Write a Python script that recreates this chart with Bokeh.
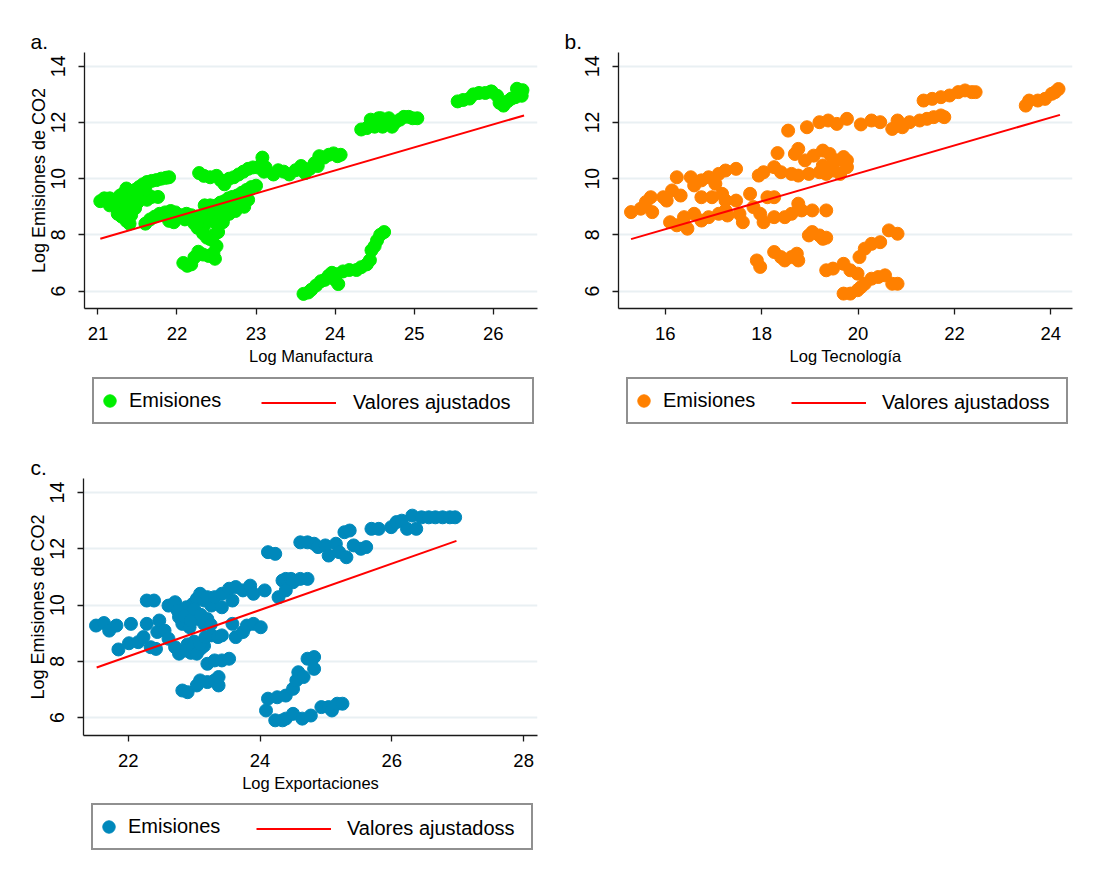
from bokeh.plotting import figure
from bokeh.models import Legend, LegendItem, FixedTicker, Range1d
from bokeh.layouts import column, row
from bokeh.embed import file_html
from bokeh.resources import INLINE

FONT = "Liberation Sans"

# ---------------- data ----------------
y_ticks = [6, 8, 10, 12, 14]
y_title = "Log Emisiones de CO2"

# Panel a: Log Manufactura
a_x = [21.03, 21.08, 21.15, 21.22, 21.28, 21.33, 21.36, 21.42, 21.47, 21.52, 21.57, 21.62, 21.68, 21.74, 21.80, 21.86, 21.90,
       21.15, 21.25, 21.30, 21.36, 21.40, 21.42, 21.47, 21.50, 21.55, 21.62, 21.68, 21.76, 21.45, 21.38, 21.33,
       21.20, 21.28, 21.35, 21.45, 21.55, 21.60, 21.50, 21.30,
       21.60, 21.66, 21.72, 21.78, 21.85, 21.92, 21.98, 21.90, 21.96, 22.05, 22.12, 22.18, 22.10, 22.25,
       22.22, 22.26, 22.30, 22.35, 22.40, 22.45, 22.50, 22.55, 22.60, 22.65, 22.70, 22.76, 22.82, 22.88, 22.94, 23.00,
       22.35, 22.42, 22.48, 22.54, 22.60, 22.66, 22.74, 22.80,
       22.45, 22.55, 22.60, 22.65, 22.70, 22.75, 22.85, 22.90, 22.35, 22.40, 22.50, 22.58,
       22.33, 22.38, 22.42, 22.47, 22.52, 22.50, 22.46, 22.48, 22.40, 22.33, 22.27, 22.22, 22.18, 22.13, 22.08,
       22.28, 22.34, 22.42, 22.50, 22.55, 22.60, 22.66, 22.72, 22.78, 22.84, 22.90, 22.96, 23.02, 23.07, 23.08, 23.12, 23.10,
       23.22, 23.28, 23.35, 23.42, 23.50, 23.57, 23.62, 23.68, 23.74, 23.80, 23.86, 23.92, 23.98, 24.03, 24.07, 23.78,
       24.33, 24.40, 24.45, 24.50, 24.55, 24.50, 24.60, 24.62, 24.68, 24.72, 24.76, 24.82, 24.87, 24.93, 24.98, 25.04, 24.58, 24.68,
       25.55, 25.62, 25.70, 25.75, 25.82, 25.90, 25.98, 26.05, 26.08, 26.13, 26.18, 26.23, 26.28, 26.33, 26.37, 26.36, 26.30, 25.97,
       23.60, 23.66, 23.70, 23.76, 23.82, 23.87, 23.92, 23.96, 24.02, 24.04, 24.00, 24.10, 24.18, 24.27, 24.33, 24.40, 24.44, 24.46, 24.50, 24.53, 24.57, 24.62]
a_y = [9.20, 9.30, 9.30, 9.25, 9.40, 9.50, 9.65, 9.55, 9.60, 9.70, 9.80, 9.88, 9.92, 9.95, 10.00, 10.03, 10.05,
       9.05, 8.75, 8.65, 8.50, 8.40, 8.70, 8.95, 9.15, 9.30, 9.25, 9.35, 9.35, 9.35, 9.20, 8.85,
       9.20, 9.10, 9.00, 9.15, 9.45, 9.60, 9.45, 9.35,
       8.40, 8.55, 8.65, 8.75, 8.80, 8.85, 8.80, 8.50, 8.45, 8.70, 8.75, 8.70, 8.55, 8.65,
       8.40, 8.25, 8.50, 8.75, 8.85, 8.95, 9.05, 9.15, 9.20, 9.30, 9.35, 9.40, 9.50, 9.60, 9.70, 9.75,
       9.05, 9.05, 8.70, 8.60, 8.65, 8.75, 8.85, 9.30,
       8.55, 8.80, 8.95, 9.05, 9.10, 9.15, 9.00, 9.25, 8.35, 8.55, 8.40, 8.45,
       8.05, 7.90, 7.85, 8.00, 8.10, 7.60, 7.35, 7.15, 7.25, 7.30, 7.40, 7.20, 6.95, 6.90, 7.00,
       10.20, 10.10, 10.05, 10.10, 9.95, 9.80, 10.00, 10.05, 10.15, 10.25, 10.35, 10.40, 10.40, 10.50, 10.75, 10.40, 10.25,
       10.15, 10.30, 10.25, 10.15, 10.30, 10.45, 10.20, 10.35, 10.55, 10.80, 10.75, 10.85, 10.90, 10.80, 10.85, 10.45,
       11.75, 11.80, 12.10, 12.00, 12.15, 11.85, 11.85, 12.05, 11.95, 11.85, 12.00, 12.10, 12.20, 12.20, 12.15, 12.15, 12.15, 12.15,
       12.75, 12.80, 12.85, 13.00, 13.05, 13.05, 13.10, 12.95, 12.70, 12.60, 12.75, 12.85, 12.90, 13.00, 13.15, 12.95, 13.20, 13.10,
       5.90, 5.95, 6.05, 6.20, 6.35, 6.40, 6.55, 6.65, 6.60, 6.25, 6.40, 6.70, 6.75, 6.75, 6.85, 6.95, 7.10, 7.45, 7.60, 7.80, 8.00, 8.10]
a_fit_x = [21.03, 26.39]
a_fit_y = [7.86, 12.25]

# Panel b: Log Tecnologia
b_x = [15.29, 15.49, 15.60, 15.70, 15.73, 15.96, 16.03, 16.14, 16.24, 16.32, 16.53, 16.60, 16.75, 16.90, 17.04, 17.11, 17.25, 17.47,
       16.75, 16.97, 17.18, 17.25,
       16.10, 16.24, 16.46, 16.39, 16.60, 16.75, 16.90, 17.11, 17.25, 17.29, 17.47, 17.54, 17.61, 17.76, 17.83, 17.97, 18.04, 18.12,
       18.26, 18.26, 18.48, 18.62, 18.76, 18.83, 19.05, 19.34,
       17.94, 18.04, 18.26, 18.40, 18.62, 18.76, 18.98, 19.20, 19.34, 19.48, 19.63, 19.77,
       18.33, 18.69, 18.76, 18.90, 19.08, 19.27, 19.41, 19.56, 19.70, 19.77, 19.48, 19.27,
       18.55, 18.94, 19.20, 19.38, 19.56, 19.77, 20.06, 20.28, 20.46, 20.71, 20.82, 20.92, 21.07, 21.28, 21.43, 21.57, 21.72, 21.79,
       21.36, 21.54, 21.72, 21.90, 22.08, 22.22, 22.36, 22.44,
       23.48, 23.55, 23.73, 23.88, 24.02, 24.16, 24.09,
       18.98, 19.05, 19.27, 19.34, 19.20,
       17.90, 17.97,
       18.26, 18.40, 18.48, 18.62, 18.73, 18.76,
       19.34, 19.48, 19.70, 19.84, 19.99, 20.03, 20.14, 20.28, 20.46, 20.64, 20.82,
       19.70, 19.84, 19.99, 20.14, 20.28, 20.42, 20.56, 20.71, 20.82, 20.06]
b_y = [8.81, 8.93, 9.17, 9.34, 8.81, 9.34, 9.22, 9.58, 10.05, 9.40, 10.05, 9.76, 9.94, 10.05, 9.82, 10.17, 10.29, 10.35,
       9.34, 9.34, 9.46, 9.22,
       8.45, 8.34, 8.22, 8.63, 8.75, 8.51, 8.63, 8.75, 8.87, 8.69, 9.22, 8.75, 8.45, 9.46, 8.99, 8.75, 8.45, 9.34,
       9.34, 8.63, 8.63, 8.75, 9.11, 8.87, 8.87, 8.87,
       10.11, 10.23, 10.41, 10.23, 10.17, 10.11, 10.17, 10.23, 10.17, 10.29, 10.17, 10.41,
       10.91, 10.88, 11.06, 10.65, 10.82, 11.00, 10.88, 10.65, 10.77, 10.65, 10.53, 10.47,
       11.71, 11.83, 12.01, 12.07, 11.95, 12.13, 11.93, 12.07, 12.01, 11.77, 12.07, 11.83, 12.01, 12.07, 12.13, 12.19, 12.25, 12.19,
       12.78, 12.84, 12.90, 12.96, 13.08, 13.14, 13.08, 13.08,
       12.60, 12.78, 12.78, 12.84, 13.02, 13.19, 13.08,
       7.98, 8.10, 7.86, 7.90, 7.98,
       7.09, 6.86,
       7.39, 7.21, 7.09, 7.21, 7.33, 7.09,
       6.74, 6.80, 6.97, 6.74, 6.62, 7.21, 7.51, 7.68, 7.74, 8.16, 8.04,
       5.91, 5.91, 6.03, 6.26, 6.44, 6.50, 6.56, 6.26, 6.26, 6.14]
b_fit_x = [15.29, 24.19]
b_fit_y = [7.85, 12.27]

# Panel c: Log Exportaciones
c_x = [21.51, 21.63, 21.71, 21.82, 21.85, 22.04, 22.01, 22.15, 22.23, 22.28, 22.34, 22.42, 22.44, 22.47, 22.55, 22.61,
       22.28, 22.39,
       22.61, 22.71, 22.77, 22.88, 22.93, 22.98, 23.04, 23.09, 23.15, 23.20, 23.26, 23.31, 23.42, 23.53, 23.63, 23.74, 23.85, 23.90,
       24.07, 23.42, 23.58,
       22.82, 22.93, 23.04, 23.15,
       22.75, 22.85, 22.95, 23.00, 23.10, 23.20, 23.25, 22.90, 23.00, 23.10, 23.15, 22.95,
       22.71, 22.77, 22.88, 22.98, 23.04, 23.09, 23.17, 23.26, 23.36, 23.42, 23.63, 23.74, 23.80, 23.90, 24.01, 23.58,
       23.20, 23.31, 23.42, 23.53,
       22.82, 22.90, 23.04, 23.09, 23.20, 23.31, 23.37, 23.37,
       24.12, 24.23, 24.34, 24.39, 24.47, 24.50, 24.61, 24.72, 24.28, 24.39,
       24.61, 24.72, 24.82, 24.88, 24.99, 25.04, 25.15, 25.20, 25.31, 25.42, 25.53, 25.61, 25.28, 25.36,
       25.69, 25.80, 25.99, 26.07, 26.15, 26.23, 26.31, 26.37, 26.45, 26.56, 26.66, 26.77, 26.88, 26.96,
       24.09, 24.12, 24.26, 24.39, 24.50, 24.55, 24.58, 24.66, 24.72, 24.82, 24.82,
       24.23, 24.34, 24.39, 24.50, 24.64, 24.77, 24.93, 25.04, 25.09, 25.17, 25.25]
c_y = [9.27, 9.36, 9.09, 9.27, 8.42, 9.33, 8.64, 8.68, 8.86, 9.33, 8.50, 8.44, 9.04, 9.45, 9.09, 8.80,
       10.16, 10.16,
       9.98, 10.10, 9.57, 9.92, 9.69, 10.04, 10.22, 10.40, 10.16, 10.28, 9.98, 10.28, 10.40, 10.58, 10.64, 10.52, 10.69, 10.40,
       10.52, 9.92, 10.16,
       9.33, 9.21, 9.51, 9.33,
       9.80, 9.60, 9.45, 9.85, 9.65, 9.50, 9.30, 8.60, 8.70, 8.45, 8.55, 8.30,
       8.50, 8.27, 8.38, 8.50, 8.27, 8.62, 8.86, 8.92, 8.86, 8.92, 8.86, 9.04, 9.27, 9.33, 9.21, 9.33,
       7.91, 8.03, 8.03, 8.09,
       6.96, 6.90, 7.14, 7.32, 7.26, 7.32, 7.14, 7.44,
       11.88, 11.82, 10.87, 10.93, 10.93, 10.81, 10.93, 10.93, 10.28, 10.52,
       12.23, 12.23, 12.18, 12.06, 12.12, 11.76, 12.18, 11.88, 11.70, 12.12, 12.00, 12.06, 12.59, 12.65,
       12.71, 12.71, 12.77, 12.95, 13.00, 12.71, 13.18, 12.71, 13.12, 13.12, 13.12, 13.12, 13.12, 13.12,
       6.25, 6.67, 6.72, 6.78, 7.02, 7.32, 7.61, 7.44, 8.09, 8.15, 7.73,
       5.90, 5.90, 5.96, 6.13, 5.96, 6.07, 6.37, 6.37, 6.25, 6.49, 6.49]
c_fit_x = [21.52, 26.98]
c_fit_y = [7.78, 12.28]

legend_point = "Emisiones"
legend_fit_a = "Valores ajustados"
legend_fit_bc = "Valores ajustadoss"

RED = "#ff0000"
MSIZE = 13


def plot_panel(width, height, mbl, mbr, mbt, mbb, xr, yr, xticks, xlabel, ylabel,
               xs, ys, color, fx, fy, tag, tag_offset):
    p = figure(width=width, height=height, output_backend="svg", toolbar_location=None,
               min_border_left=mbl, min_border_right=mbr, min_border_top=mbt, min_border_bottom=mbb,
               x_range=Range1d(*xr), y_range=Range1d(*yr))
    p.outline_line_color = None
    p.background_fill_color = "white"
    p.border_fill_color = "white"
    p.xgrid.visible = False
    p.ygrid.grid_line_color = "#e9f0f3"
    p.ygrid.grid_line_width = 2
    p.ygrid.ticker = FixedTicker(ticks=y_ticks)

    p.xaxis.ticker = FixedTicker(ticks=xticks)
    p.yaxis.ticker = FixedTicker(ticks=y_ticks)
    for ax in (p.xaxis[0], p.yaxis[0]):
        ax.axis_line_color = "#1a1a1a"
        ax.axis_line_width = 1.3
        ax.major_tick_line_color = "#1a1a1a"
        ax.major_tick_line_width = 1.3
        ax.major_tick_out = 6
        ax.major_tick_in = 0
        ax.minor_tick_line_color = None
        ax.major_label_text_font = FONT
        ax.major_label_text_color = "black"
        ax.axis_label_text_font = FONT
        ax.axis_label_text_font_style = "normal"
        ax.axis_label_text_color = "black"
    p.xaxis.major_label_text_font_size = "18.5px"
    p.xaxis.major_label_standoff = 12
    p.xaxis.axis_label = xlabel
    p.xaxis.axis_label_text_font_size = "16.5px"
    p.xaxis.axis_label_standoff = 4
    p.yaxis.major_label_text_font_size = "19.5px"
    p.yaxis.major_label_orientation = "vertical"
    p.yaxis.major_label_standoff = 13
    if ylabel:
        p.yaxis.axis_label = ylabel
        p.yaxis.axis_label_text_font_size = "18px"
        p.yaxis.axis_label_standoff = 0

    p.title.text = tag
    p.title.align = "left"
    p.title.offset = tag_offset
    p.title.standoff = 0
    p.title.text_font = FONT
    p.title.text_font_size = "21px"
    p.title.text_font_style = "normal"
    p.title.text_color = "black"

    p.scatter(xs, ys, size=MSIZE, fill_color=color, line_color=color)
    p.line(fx, fy, line_color=RED, line_width=2)
    return p


def legend_panel(width, height, xs, ys, color, fx, fy, fit_label, box_x, box_y, line_x, line_standoff):
    # the legend row sits under its plot; its frame lines up with the plot frame above
    lf = figure(width=width, height=height, output_backend="svg", toolbar_location=None,
                x_axis_location=None, y_axis_location=None,
                min_border_left=0, min_border_right=0, min_border_top=0, min_border_bottom=0,
                x_range=Range1d(0, 1), y_range=Range1d(0, 1))
    lf.outline_line_color = None
    lf.grid.visible = False
    lf.background_fill_color = "white"
    lf.border_fill_color = "white"
    # legend keys: the same series, out of this strip's view range (only their keys show)
    key_pt = lf.scatter(xs, ys, size=MSIZE, fill_color=color, line_color=color)
    key_ln = lf.line(fx, fy, line_color=RED, line_width=2)
    common = dict(orientation="horizontal", padding=0, spacing=0, margin=0,
                  glyph_height=43, label_height=43,
                  label_text_font=FONT, label_text_font_size="20px", label_text_color="black")
    lb = Legend(items=[LegendItem(label=legend_point, renderers=[key_pt])],
                location=(box_x, box_y), glyph_width=31, label_standoff=4,
                label_width=438 - 35,
                border_line_color="#222222", border_line_width=2,
                background_fill_color="white", background_fill_alpha=1.0, **common)
    ll = Legend(items=[LegendItem(label=fit_label, renderers=[key_ln])],
                location=(line_x, box_y), glyph_width=75, label_standoff=line_standoff,
                border_line_alpha=0, background_fill_alpha=0, **common)
    lf.add_layout(lb)
    lf.add_layout(ll)
    return lf


GREEN, ORANGE, BLUE = "#00ee00", "#ff8000", "#0088bb"

pa = plot_panel(558, 372, 84, 21, 52, 64, (20.83, 26.56), (5.38, 14.49), [21, 22, 23, 24, 25, 26],
                "Log Manufactura", y_title, a_x, a_y, GREEN, a_fit_x, a_fit_y, "a.", -54)
la = legend_panel(558, 80, a_x, a_y, GREEN, a_fit_x, a_fit_y, legend_fit_a, 8, 28, 177, 17)

pb = plot_panel(539, 372, 60, 25, 52, 64, (15.03, 24.45), (5.38, 14.49), [16, 18, 20, 22, 24],
                "Log Tecnología", None, b_x, b_y, ORANGE, b_fit_x, b_fit_y, "b.", -54)
lb_ = legend_panel(539, 80, b_x, b_y, ORANGE, b_fit_x, b_fit_y, legend_fit_bc, 8, 28, 173, 16)

pc = plot_panel(558, 346, 83, 21, 26, 63, (21.32, 28.21), (5.36, 14.5), [22, 24, 26, 28],
                "Log Exportaciones", y_title, c_x, c_y, BLUE, c_fit_x, c_fit_y, "c.", -53)
lc = legend_panel(558, 90, c_x, c_y, BLUE, c_fit_x, c_fit_y, legend_fit_bc, 8, 38, 173, 16)

layout = column(row(column(pa, la), column(pb, lb_)), column(pc, lc))
open("out.html", "w").write(file_html(layout, INLINE))
